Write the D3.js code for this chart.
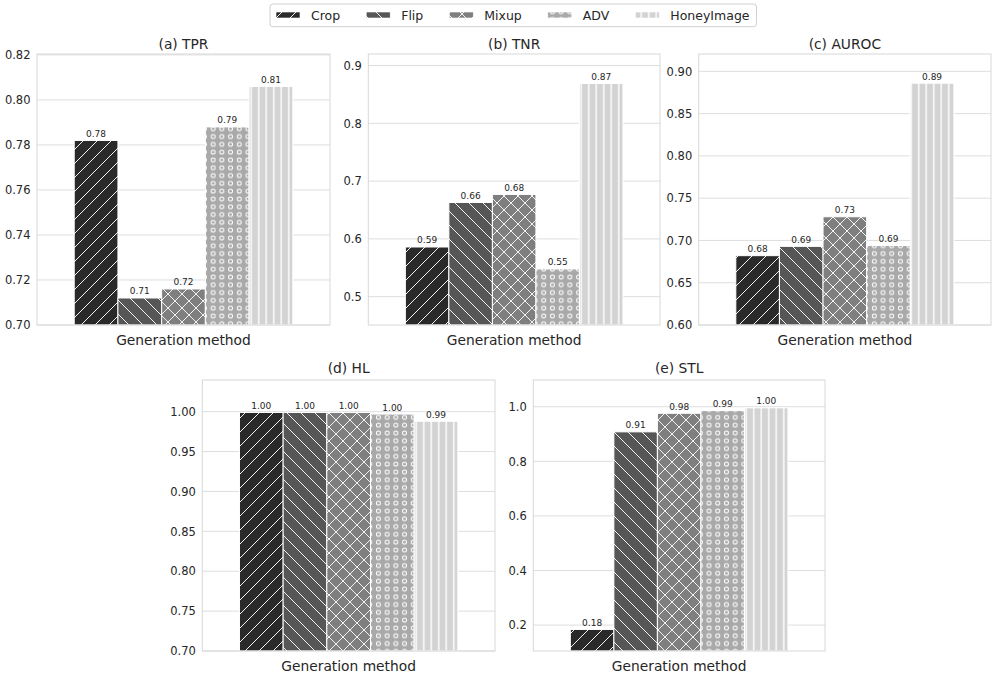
<!DOCTYPE html>
<html>
<head>
<meta charset="utf-8">
<script src="https://cdn.jsdelivr.net/npm/d3@7"></script>
<style>
  html, body { margin: 0; padding: 0; background: #ffffff; }
  svg { display: block; font-family: "DejaVu Sans", sans-serif; }
</style>
</head>
<body>
<svg id="chart" width="996" height="678"></svg>
<script>
// ---------------- DATA ----------------
const methods = ["Crop", "Flip", "Mixup", "ADV", "HoneyImage"];
const panelTitles = ["(a) TPR", "(b) TNR", "(c) AUROC", "(d) HL", "(e) STL"];
const xAxisLabel = "Generation method";

const tprValues   = [0.782, 0.712, 0.716, 0.788, 0.806];
const tnrValues   = [0.586, 0.663, 0.677, 0.548, 0.869];
const aurocValues = [0.682, 0.693, 0.728, 0.694, 0.886];
const hlValues    = [0.999, 0.999, 0.999, 0.997, 0.988];
const stlValues   = [0.184, 0.908, 0.976, 0.986, 0.996];

const tprTicks   = [0.70, 0.72, 0.74, 0.76, 0.78, 0.80, 0.82];
const tnrTicks   = [0.5, 0.6, 0.7, 0.8, 0.9];
const aurocTicks = [0.60, 0.65, 0.70, 0.75, 0.80, 0.85, 0.90];
const hlTicks    = [0.70, 0.75, 0.80, 0.85, 0.90, 0.95, 1.00];
const stlTicks   = [0.2, 0.4, 0.6, 0.8, 1.0];

const tprDomain   = [0.70, 0.8204];
const tnrDomain   = [0.451, 0.920];
const aurocDomain = [0.60, 0.9205];
const hlDomain    = [0.70, 1.0397];
const stlDomain   = [0.105, 1.098];

const tickFormats = [".2f", ".1f", ".2f", ".2f", ".1f"];

// ---------------- STYLE / LAYOUT ----------------
const fills = ["#2a2a2a", "#565656", "#7f7f7f", "#a9a9a9", "#d3d3d3"];
const textColor = "#262626";
const gridColor = "#dedede";

const panels = [
  { title: panelTitles[0], values: tprValues,   ticks: tprTicks,   domain: tprDomain,   fmt: tickFormats[0], left: 37,    right: 330, top: 54,  bottom: 325 },
  { title: panelTitles[1], values: tnrValues,   ticks: tnrTicks,   domain: tnrDomain,   fmt: tickFormats[1], left: 368.3, right: 660, top: 54,  bottom: 325 },
  { title: panelTitles[2], values: aurocValues, ticks: aurocTicks, domain: aurocDomain, fmt: tickFormats[2], left: 698.7, right: 991, top: 54,  bottom: 325 },
  { title: panelTitles[3], values: hlValues,    ticks: hlTicks,    domain: hlDomain,    fmt: tickFormats[3], left: 202.3, right: 495, top: 380, bottom: 651 },
  { title: panelTitles[4], values: stlValues,   ticks: stlTicks,   domain: stlDomain,   fmt: tickFormats[4], left: 533.3, right: 825, top: 380, bottom: 651 }
];

const svg = d3.select("#chart");
const defs = svg.append("defs");

// ---------------- HATCH PATTERNS ----------------
function makePattern(id, w, h, fill, drawFn) {
  const p = defs.append("pattern")
    .attr("id", id)
    .attr("patternUnits", "userSpaceOnUse")
    .attr("width", w).attr("height", h);
  p.append("rect").attr("width", w).attr("height", h).attr("fill", fill);
  drawFn(p, w, h);
}
const hatchStroke = "#f2f2f2";
// Crop: "/"
makePattern("hatch0", 14, 14, fills[0], (p, w, h) => {
  [[0, h, w, 0], [-w / 2, h / 2, w / 2, -h / 2], [w / 2, h * 1.5, w * 1.5, h / 2]].forEach(l =>
    p.append("line").attr("x1", l[0]).attr("y1", l[1]).attr("x2", l[2]).attr("y2", l[3])
      .attr("stroke", hatchStroke).attr("stroke-width", 1));
});
// Flip: "\"
makePattern("hatch1", 14, 14, fills[1], (p, w, h) => {
  [[0, 0, w, h], [-w / 2, h / 2, w / 2, h * 1.5], [w / 2, -h / 2, w * 1.5, h / 2]].forEach(l =>
    p.append("line").attr("x1", l[0]).attr("y1", l[1]).attr("x2", l[2]).attr("y2", l[3])
      .attr("stroke", hatchStroke).attr("stroke-width", 1));
});
// Mixup: "x"
makePattern("hatch2", 14, 14, fills[2], (p, w, h) => {
  [[0, h, w, 0], [-w / 2, h / 2, w / 2, -h / 2], [w / 2, h * 1.5, w * 1.5, h / 2],
   [0, 0, w, h], [-w / 2, h / 2, w / 2, h * 1.5], [w / 2, -h / 2, w * 1.5, h / 2]].forEach(l =>
    p.append("line").attr("x1", l[0]).attr("y1", l[1]).attr("x2", l[2]).attr("y2", l[3])
      .attr("stroke", hatchStroke).attr("stroke-width", 1));
});
// ADV: "o"
makePattern("hatch3", 8.7, 7.8, fills[3], (p, w, h) => {
  p.append("circle").attr("cx", w / 2).attr("cy", h / 2).attr("r", 2.0)
    .attr("fill", "none").attr("stroke", "#ffffff").attr("stroke-width", 1.0);
});
// HoneyImage: "|"
makePattern("hatch4", 7.5, 10, fills[4], (p, w, h) => {
  p.append("line").attr("x1", w / 2).attr("y1", 0).attr("x2", w / 2).attr("y2", h)
    .attr("stroke", "#ffffff").attr("stroke-width", 1.4);
});

// ---------------- PANELS ----------------
const groupFraction = 0.746;
const valueFmt = d3.format(".2f");

panels.forEach(pn => {
  const g = svg.append("g");
  const width = pn.right - pn.left;

  const y = d3.scaleLinear().domain(pn.domain).range([pn.bottom, pn.top]);
  const groupW = width * groupFraction;
  const gx0 = pn.left + (width - groupW) / 2;
  const x = d3.scaleBand().domain(methods).range([gx0, gx0 + groupW]).padding(0);

  // grid
  g.append("g").selectAll("line").data(pn.ticks).join("line")
    .attr("x1", pn.left).attr("x2", pn.right)
    .attr("y1", d => y(d)).attr("y2", d => y(d))
    .attr("stroke", gridColor).attr("stroke-width", 1);

  // y axis via d3.axisLeft (labels only)
  const yAxis = d3.axisLeft(y).tickValues(pn.ticks).tickFormat(d3.format(pn.fmt))
    .tickSize(0).tickPadding(6.5);
  const ax = g.append("g").attr("transform", `translate(${pn.left},0)`).call(yAxis);
  ax.select(".domain").remove();
  ax.selectAll("text").attr("fill", textColor).attr("font-size", 11.5)
    .attr("font-family", "DejaVu Sans, sans-serif");

  // bars
  g.append("g").selectAll("rect").data(pn.values).join("rect")
    .attr("x", (d, i) => x(methods[i]))
    .attr("width", x.bandwidth())
    .attr("y", d => y(d))
    .attr("height", d => y(pn.domain[0]) - y(d))
    .attr("fill", (d, i) => `url(#hatch${i})`)
    .attr("stroke", "#ffffff").attr("stroke-width", 1);

  // value labels
  g.append("g").selectAll("text").data(pn.values).join("text")
    .attr("x", (d, i) => x(methods[i]) + x.bandwidth() / 2)
    .attr("y", d => y(d) - 3.5)
    .attr("text-anchor", "middle")
    .attr("font-size", 9)
    .attr("fill", textColor)
    .text(d => valueFmt(d));

  // frame
  g.append("rect")
    .attr("x", pn.left).attr("y", pn.top)
    .attr("width", width).attr("height", pn.bottom - pn.top)
    .attr("fill", "none").attr("stroke", "#d8d8d8").attr("stroke-width", 1);

  // title
  g.append("text")
    .attr("x", pn.left + width / 2).attr("y", pn.top - (pn.top < 100 ? 4.8 : 6.8))
    .attr("text-anchor", "middle").attr("font-size", 13.8).attr("fill", textColor)
    .text(pn.title);

  // x label
  g.append("text")
    .attr("x", pn.left + width / 2).attr("y", pn.bottom + 20)
    .attr("text-anchor", "middle").attr("font-size", 13.8).attr("fill", textColor)
    .text(xAxisLabel);
});

// ---------------- LEGEND ----------------
const legend = svg.append("g");
const legendBox = legend.append("rect")
  .attr("x", 270).attr("y", 4).attr("height", 22.7).attr("rx", 3)
  .attr("fill", "#ffffff").attr("stroke", "#d0d0d0").attr("stroke-width", 1);
let lx = 276;
methods.forEach((m, i) => {
  legend.append("rect")
    .attr("x", lx).attr("y", 12).attr("width", 24).attr("height", 6)
    .attr("fill", `url(#hatch${i})`).attr("stroke", "#ffffff").attr("stroke-width", 0.6);
  const t = legend.append("text")
    .attr("x", lx + 35).attr("y", 20)
    .attr("font-size", 12.5).attr("fill", textColor)
    .text(m);
  const tw = t.node().getComputedTextLength();
  lx = lx + 35 + tw + 26;
});
legendBox.attr("width", lx - 26 + 7 - 270);
</script>
</body>
</html>
